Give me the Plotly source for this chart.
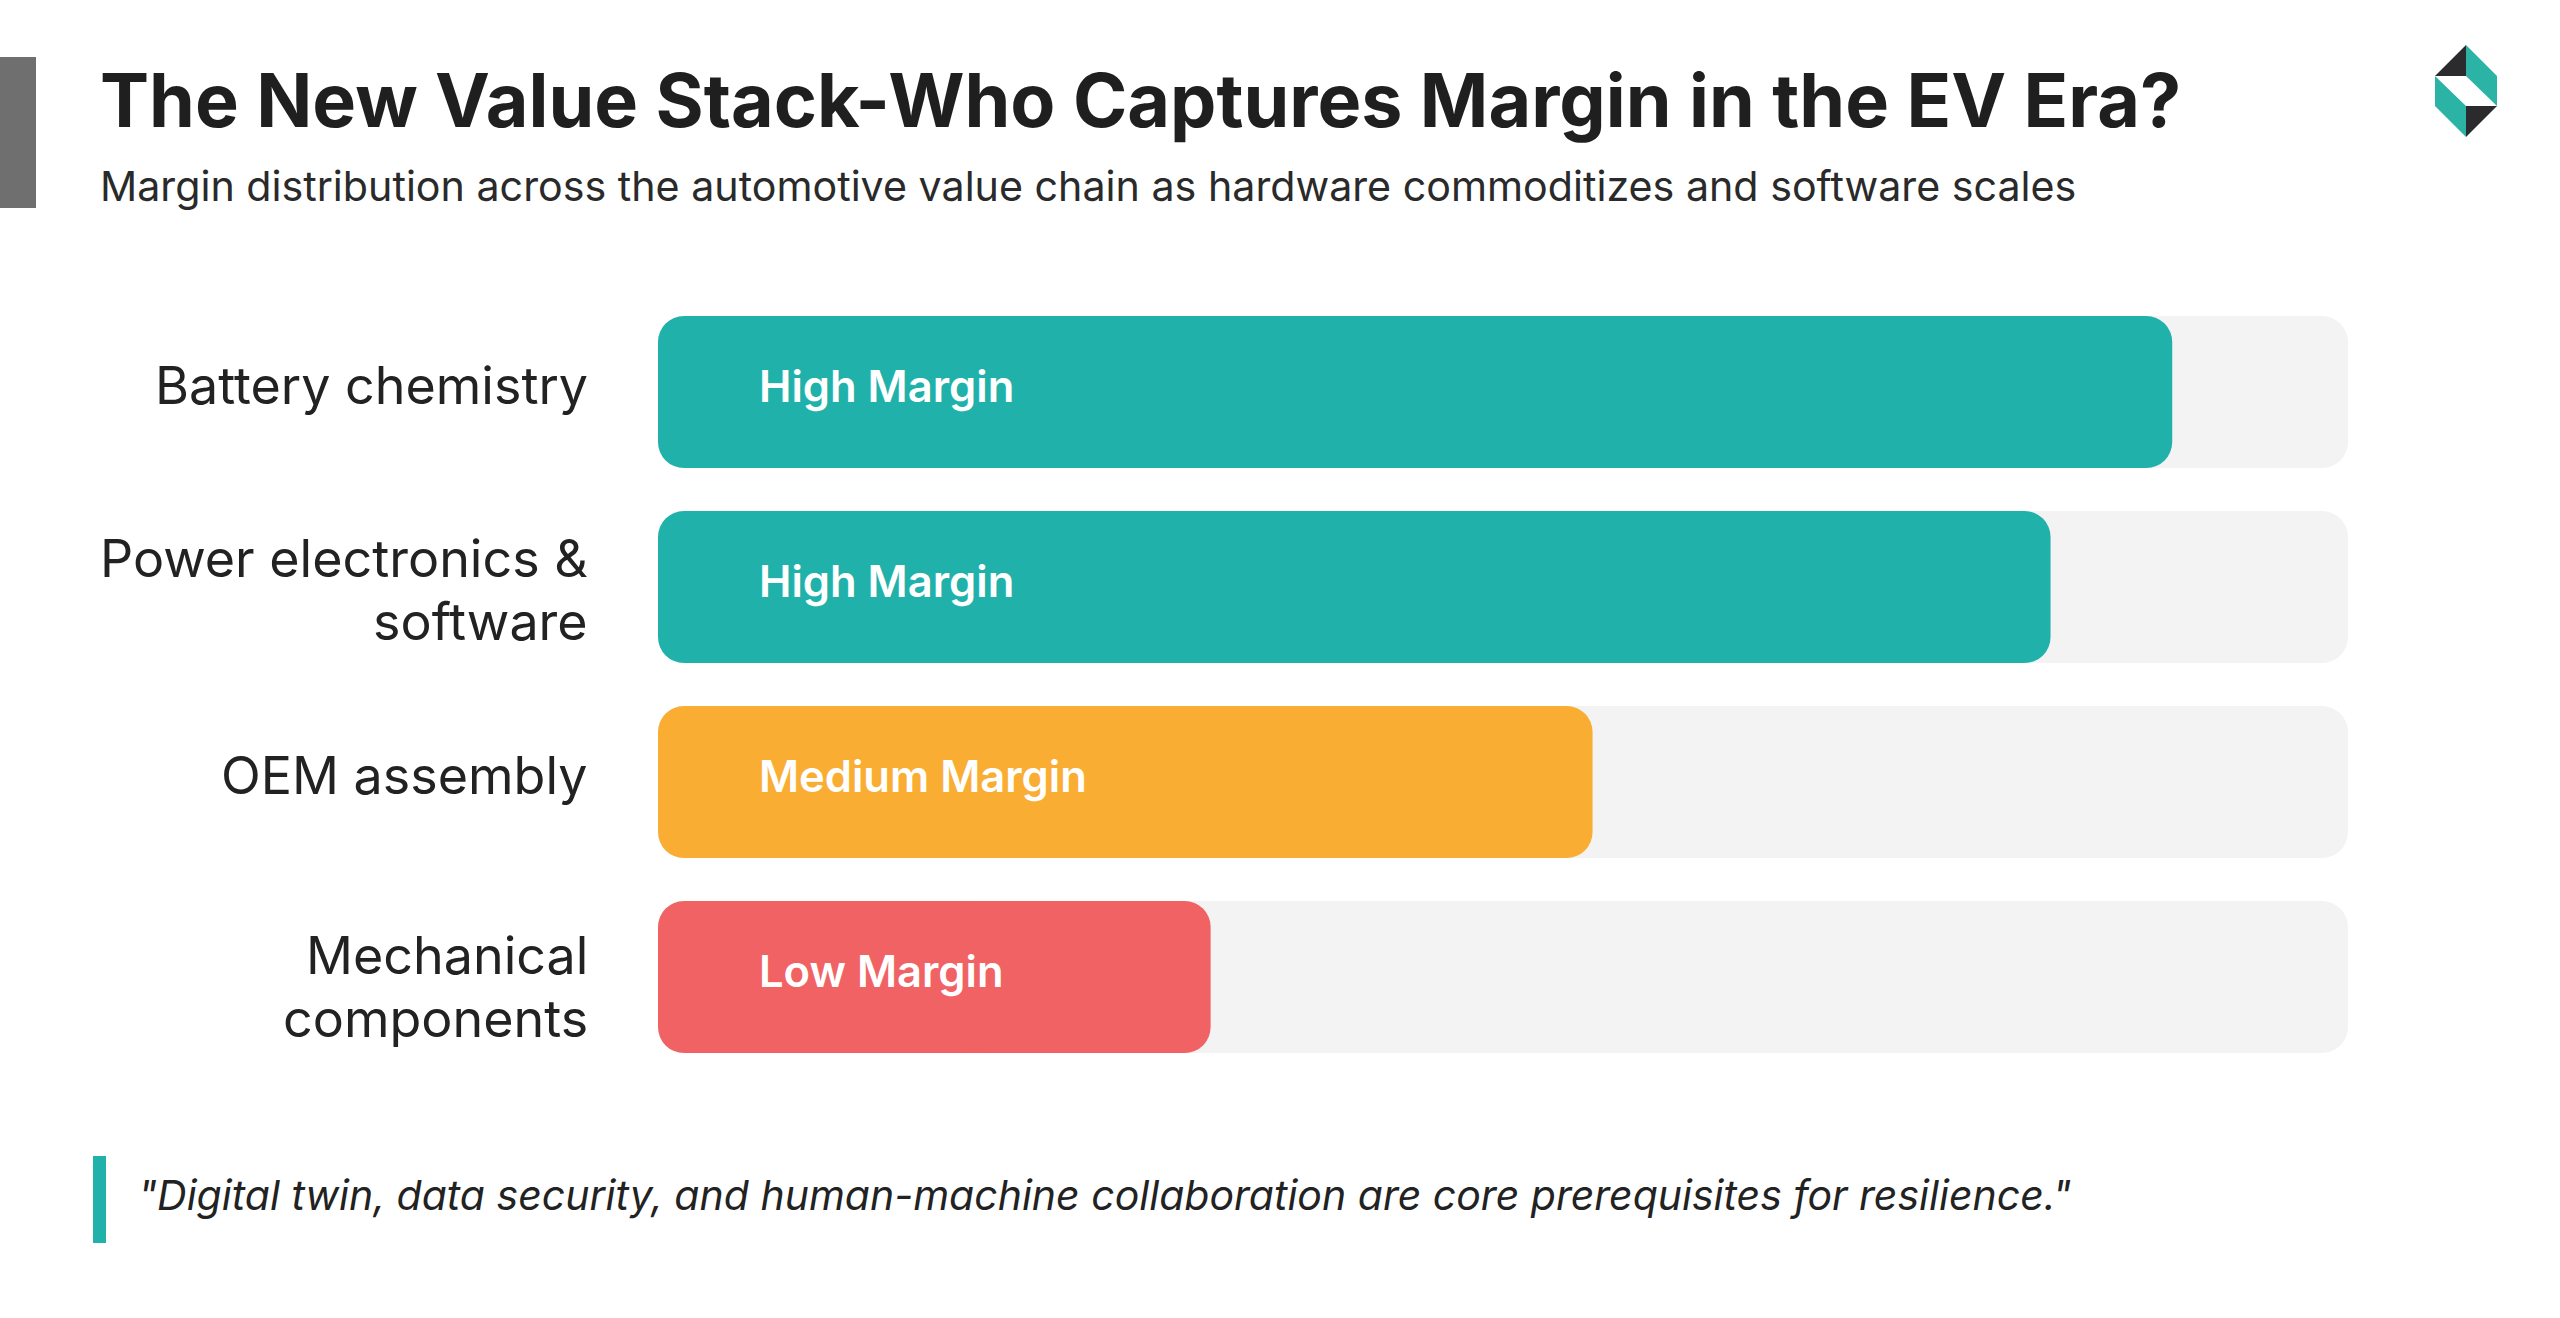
import plotly.graph_objects as go

# ---------------- data ----------------
categories = [
    "Battery chemistry",
    "Power electronics &<br>software",
    "OEM assembly",
    "Mechanical<br>components",
]
margin_share = [89.6, 82.4, 55.3, 32.7]          # % of full track
margin_labels = ["High Margin", "High Margin", "Medium Margin", "Low Margin"]
bar_colors = ["#20B2AA", "#20B2AA", "#F9AE33", "#F06263"]
track_max = [100, 100, 100, 100]

title_text = "The New Value Stack-Who Captures Margin in the EV Era?"
subtitle_text = ("Margin distribution across the automotive value chain as hardware "
                 "commoditizes and software scales")
quote_text = ('"Digital twin, data security, and human-machine collaboration are core '
              'prerequisites for resilience."')

# ---------------- layout helpers ----------------
W, H = 2560, 1318
FONT = "Inter"


def px(x):
    return x / W


def py(y):
    return 1 - y / H


fig = go.Figure()


def rounded_bars(values, colors):
    """Two overlapping halves so that both ends of each bar get rounded corners."""
    common = dict(orientation="h", width=0.78, hoverinfo="skip", showlegend=False)
    fig.add_bar(y=categories, x=[0.6 * v for v in values], base=[0.4 * v for v in values],
                marker=dict(color=colors, cornerradius=26, line=dict(width=0)), **common)
    fig.add_bar(y=categories, x=[-0.6 * v for v in values], base=[0.6 * v for v in values],
                marker=dict(color=colors, cornerradius=26, line=dict(width=0)), **common)


rounded_bars(track_max, ["#F3F3F3"] * len(track_max))
rounded_bars(margin_share, bar_colors)

annotations = []
# in-bar labels
for cat, lab in zip(categories, margin_labels):
    annotations.append(dict(
        x=0, y=cat, xref="x", yref="y", xanchor="left", yanchor="middle",
        xshift=99, yshift=6,
        text=lab, showarrow=False,
        font=dict(family=FONT, size=43.5, color="white", weight=600)))

# category labels (right aligned, one annotation per line for tight spacing)
LINE_GAP = 63
label_nudge = [7, -2.5, 7, -10]
for cat, nudge in zip(categories, label_nudge):
    lines = cat.split("<br>")
    n = len(lines)
    for i, line in enumerate(lines):
        shift = (n - 1) / 2 * LINE_GAP - i * LINE_GAP + nudge
        annotations.append(dict(
            x=0, y=cat, xref="x", yref="y", xanchor="right", yanchor="middle",
            xshift=-68, yshift=shift, text=line, showarrow=False,
            font=dict(family=FONT, size=52, color="#222222")))

annotations += [
    dict(x=px(98), y=py(100), xref="paper", yref="paper", xanchor="left", yanchor="middle",
         text=title_text, showarrow=False,
         font=dict(family=FONT, size=73.6, color="#1F1F1F", weight=700)),
    dict(x=px(98), y=py(186), xref="paper", yref="paper", xanchor="left", yanchor="middle",
         text=subtitle_text, showarrow=False,
         font=dict(family=FONT, size=41.2, color="#2A2A2A", weight=400)),
    dict(x=px(136), y=py(1195), xref="paper", yref="paper", xanchor="left", yanchor="middle",
         text=quote_text, showarrow=False,
         font=dict(family=FONT, size=41, color="#222222", style="italic")),
]

# decorative shapes
shapes = [
    dict(type="rect", xref="paper", yref="paper", x0=px(0), x1=px(36), y0=py(208), y1=py(57),
         fillcolor="#6F6F6F", line=dict(width=0)),
    dict(type="rect", xref="paper", yref="paper", x0=px(93), x1=px(106), y0=py(1243), y1=py(1156),
         fillcolor="#20B2AA", line=dict(width=0)),
]


def poly(points, color):
    path = "M " + " L ".join(f"{px(x):.5f},{py(y):.5f}" for x, y in points) + " Z"
    return dict(type="path", xref="paper", yref="paper", path=path,
                fillcolor=color, line=dict(width=0))


T, UL, UR, LR, LL, B = (2466, 45), (2435, 76), (2497, 76), (2497, 106), (2435, 106), (2466, 137)
C1, C2 = (2466, 76), (2466, 106)
shapes += [
    poly([T, UL, C1], "#2B2A2D"),
    poly([T, UR, LR, C1], "#2BB3A5"),
    poly([UL, C2, B, LL], "#2BB3A5"),
    poly([C2, LR, B], "#2B2A2D"),
]

top_px, bot_px = 392 - 97.5, 977 + 97.5
fig.update_layout(
    width=W, height=H,
    margin=dict(l=0, r=0, t=0, b=0),
    paper_bgcolor="white", plot_bgcolor="white",
    barmode="overlay",
    showlegend=False,
    xaxis=dict(range=[0, 100], domain=[px(658), px(2348)], visible=False, fixedrange=True),
    yaxis=dict(type="category", range=[3.5, -0.5], domain=[py(bot_px), py(top_px)],
               showgrid=False, zeroline=False, showline=False, ticks="",
               showticklabels=False, fixedrange=True),
    annotations=annotations,
    shapes=shapes,
    font=dict(family=FONT),
)

fig.write_html("out.html", config={"displayModeBar": False})
